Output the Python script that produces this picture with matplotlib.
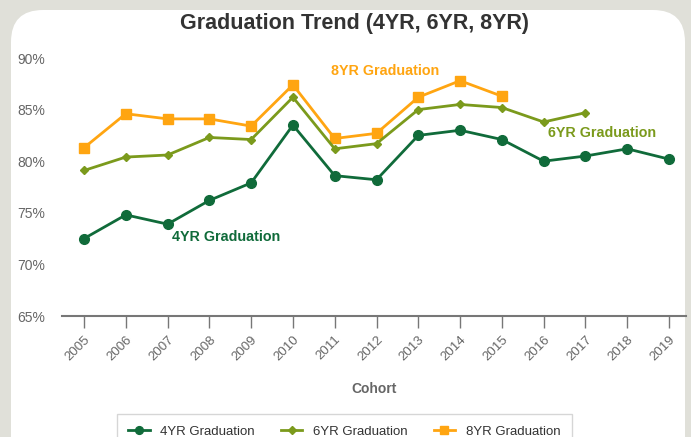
import matplotlib
matplotlib.use("Agg")
import matplotlib.pyplot as plt
from matplotlib.patches import FancyBboxPatch
from matplotlib.transforms import IdentityTransform
from matplotlib.ticker import FuncFormatter

plt.rcParams['font.family'] = ['Liberation Sans', 'DejaVu Sans']

years = list(range(2005, 2020))
grad4 = [72.5, 74.8, 73.9, 76.2, 77.9, 83.5, 78.6, 78.2, 82.5, 83.0, 82.1, 80.0, 80.5, 81.2, 80.2]
grad6 = [79.1, 80.4, 80.6, 82.3, 82.1, 86.2, 81.2, 81.7, 85.0, 85.5, 85.2, 83.8, 84.7]
grad8 = [81.3, 84.6, 84.1, 84.1, 83.4, 87.4, 82.2, 82.7, 86.2, 87.8, 86.3]
series_names = ["4YR Graduation", "6YR Graduation", "8YR Graduation"]
yticks = [65, 70, 75, 80, 85, 90]

c4 = "#106b3a"
c6 = "#7b9a1c"
c8 = "#ffa511"
gray = "#666666"

W, H = 691, 437
fig = plt.figure(figsize=(W / 100, H / 100), dpi=100)
fig.patch.set_facecolor("#e0e0d9")

# white rounded card (pixel coords, origin bottom-left)
card = FancyBboxPatch((11, -40), 674, 467, boxstyle="round,pad=0,rounding_size=32",
                      transform=IdentityTransform(), facecolor="white", edgecolor="none", zorder=-10)
fig.patches.append(card)

def px(x0, y0, x1, y1):
    return [x0 / W, 1 - y1 / H, (x1 - x0) / W, (y1 - y0) / H]

ax = fig.add_axes(px(62, 58, 686, 316))
ax.set_facecolor("none")

ax.plot(years[:len(grad8)], grad8, color=c8, marker="s", markersize=7, linewidth=2, label=series_names[2], zorder=3)
ax.plot(years[:len(grad6)], grad6, color=c6, marker="D", markersize=4.5, linewidth=2, label=series_names[1], zorder=4)
ax.plot(years, grad4, color=c4, marker="o", markersize=7, linewidth=2, label=series_names[0], zorder=5)

x0 = 2005 - (84 - 62) * 14 / 585
x1 = 2019 + (686 - 669) * 14 / 585
ax.set_xlim(x0, x1)
ax.set_ylim(65, 90)
ax.set_yticks(yticks)
ax.yaxis.set_major_formatter(FuncFormatter(lambda v, p: f"{v:.0f}%"))
ax.set_xticks(years)
ax.set_xticklabels([str(y) for y in years], rotation=45, ha="right", rotation_mode="anchor")

for s in ["top", "right", "left"]:
    ax.spines[s].set_visible(False)
ax.spines["bottom"].set_color("#777777")
ax.spines["bottom"].set_linewidth(1.5)
ax.tick_params(axis="y", length=0, labelsize=10, labelcolor=gray, pad=12)
ax.tick_params(axis="x", length=8.5, width=1, color="#777777", labelsize=9.5, labelcolor=gray, pad=4)

ax.set_xlabel("Cohort", fontsize=10, fontweight="bold", color=gray, labelpad=14)

fig.text(355 / W, 1 - 24 / H, "Graduation Trend (4YR, 6YR, 8YR)", ha="center", va="center",
         fontsize=15.5, fontweight="bold", color="#333333")

ax.text(2012.2, 88.7, "8YR Graduation", color=c8, fontsize=10.3, fontweight="bold", ha="center", va="center")
ax.text(2017.4, 82.7, "6YR Graduation", color=c6, fontsize=10.3, fontweight="bold", ha="center", va="center")
ax.text(2008.4, 72.7, "4YR Graduation", color=c4, fontsize=10.3, fontweight="bold", ha="center", va="center")

handles, labels = ax.get_legend_handles_labels()
order = [2, 1, 0]
leg = fig.legend([handles[i] for i in order], [labels[i] for i in order],
                 loc="upper left", bbox_to_anchor=(110 / W, 1 - 407 / H), ncol=3,
                 frameon=True, fancybox=False, fontsize=9.5, handlelength=1.6,
                 columnspacing=2.0, borderpad=0.9, markerscale=0.8)
leg.get_frame().set_edgecolor("#cccccc")
leg.get_frame().set_linewidth(1)
for t in leg.get_texts():
    t.set_color("#333333")

fig.savefig("out.png", dpi=100, facecolor=fig.get_facecolor())
